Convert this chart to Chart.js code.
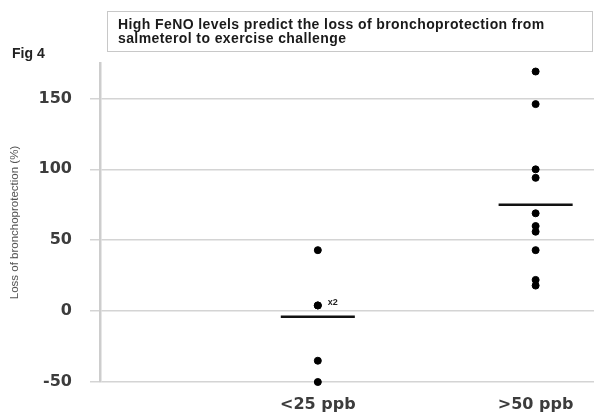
<!DOCTYPE html>
<html>
<head>
<meta charset="utf-8">
<script src="https://cdn.jsdelivr.net/npm/chart.js@4.4.1/dist/chart.umd.min.js"></script>
<style>
  html, body { margin: 0; padding: 0; background: #fff; }
  #wrap { position: relative; width: 599px; height: 416px; }
  #fig { position: absolute; left: 12px; top: 45px; font: bold 14px "Liberation Sans", Arial, sans-serif; color: #222; }
  #box {
    position: absolute; left: 107px; top: 11px; width: 474px; height: 34px;
    border: 1px solid #c8c8c8; padding: 5px 0 0 10px;
    font: bold 14px/14px "Liberation Sans", Arial, sans-serif; color: #1a1a1a;
    letter-spacing: 0.4px; box-sizing: content-box;
  }
  canvas { position: absolute; left: 0; top: 0; }
</style>
</head>
<body>
<div id="wrap">
  <canvas id="fig4" width="599" height="416"></canvas>
  <div id="box">High FeNO levels predict the loss of bronchoprotection from<br>salmeterol to exercise challenge</div>
  <div id="fig">Fig 4</div>
</div>
<script>
const groups = ["<25 ppb", ">50 ppb"];
const lowFeno = [43, 4, 4, -35, -50];
const highFeno = [169, 146, 100, 94, 69, 60, 56, 43, 22, 18];
const means = [-4, 75];
const yTicks = [-50, 0, 50, 100, 150];

const meanHalf = 0.17;

const toPoints = (vals, g) => vals.map(v => ({ x: g + 1, y: v }));

const meanSets = means.map((m, i) => ({
    type: "line",
    data: [{ x: i + 1 - meanHalf, y: m }, { x: i + 1 + meanHalf, y: m }],
    borderColor: "#111",
    borderWidth: 2.5,
    pointRadius: 0,
    clip: false
}));

// "x2" marks the duplicated value in the low group
const dupLabel = {
    id: "dupLabel",
    afterDatasetsDraw(chart) {
        const { ctx, scales } = chart;
        const px = scales.x.getPixelForValue(1);
        const py = scales.y.getPixelForValue(4);
        ctx.save();
        ctx.fillStyle = "#222";
        ctx.font = "bold 9px 'Liberation Sans', Arial, sans-serif";
        ctx.textBaseline = "middle";
        ctx.fillText("x2", px + 10, py - 3);
        ctx.restore();
    }
};

new Chart(document.getElementById("fig4"), {
    type: "scatter",
    data: {
        datasets: [
            { data: toPoints(lowFeno, 0), backgroundColor: "#000", borderColor: "#000", pointRadius: 3.5, clip: false },
            { data: toPoints(highFeno, 1), backgroundColor: "#000", borderColor: "#000", pointRadius: 3.5, clip: false },
            ...meanSets
        ]
    },
    options: {
        responsive: false,
        animation: false,
        devicePixelRatio: 1,
        layout: { padding: { top: 63, right: 0, bottom: 0, left: 0 } },
        plugins: { legend: { display: false }, tooltip: { enabled: false } },
        scales: {
            x: {
                type: "linear",
                min: 0,
                max: 2.268,
                afterBuildTicks: axis => { axis.ticks = groups.map((g, i) => ({ value: i + 1 })); },
                afterFit: axis => { axis.height = 34; },
                ticks: {
                    callback: v => groups[v - 1],
                    font: { family: "DejaVu Sans", size: 16, weight: "bold" },
                    color: "#3c3c3c",
                    padding: 13,
                    maxRotation: 0
                },
                grid: { display: false, drawTicks: false },
                border: { display: false }
            },
            y: {
                min: -50,
                max: 175,
                afterBuildTicks: axis => { axis.ticks = yTicks.map(v => ({ value: v })); },
                afterFit: axis => { axis.width = 100; },
                ticks: {
                    font: { family: "DejaVu Sans", size: 16, weight: "bold" },
                    color: "#3c3c3c",
                    padding: 18
                },
                grid: { color: "#d4d4d4", lineWidth: 1.5, tickLength: 10 },
                border: { color: "#cdcdcd", width: 2.5 },
                title: {
                    display: true,
                    text: "Loss of bronchoprotection (%)",
                    font: { family: "Liberation Sans", size: 11.5 },
                    color: "#555",
                    padding: { top: 8, bottom: 0 }
                }
            }
        }
    },
    plugins: [dupLabel]
});
</script>
</body>
</html>
